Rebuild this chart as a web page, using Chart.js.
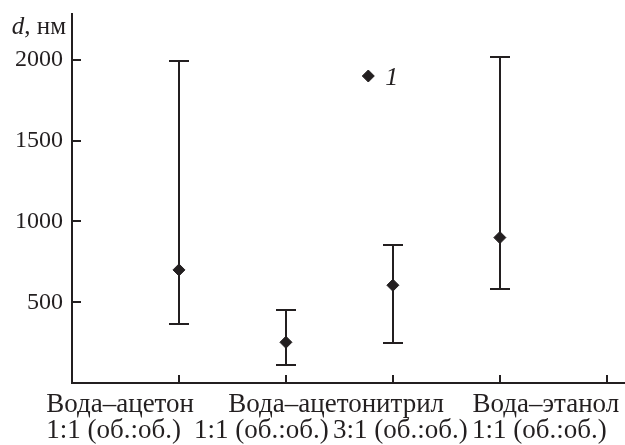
<!DOCTYPE html>
<html><head><meta charset="utf-8">
<script src="https://cdn.jsdelivr.net/npm/chart.js@4/dist/chart.umd.min.js"></script>
<style>html,body{margin:0;padding:0;background:#fff;overflow:hidden;}</style>
</head><body>
<canvas id="c" width="625" height="445"></canvas>
<script>
// ---- data ----
const categories = ['Вода–ацетон', 'Вода–ацетонитрил', 'Вода–ацетонитрил', 'Вода–этанол'];
const ratios = ['1:1 (об.:об.)', '1:1 (об.:об.)', '3:1 (об.:об.)', '1:1 (об.:об.)'];
const xPositions = [1, 2, 3, 4];
const dValues = [700, 252, 605, 900];
const dLow = [365, 110, 247, 580];
const dHigh = [1993, 450, 856, 2016];
const yTickValues = [500, 1000, 1500, 2000];
const xTickValues = [1, 2, 3, 4, 5];
const seriesName = '1';
const yAxisLabel = ['d', ', нм'];

const INK = '#231f20';
const FONT = '"Liberation Serif", "Times New Roman", serif';

const errorBars = {
  id: 'errorBars',
  beforeDatasetsDraw(chart) {
    const {ctx, scales: {x, y}} = chart;
    ctx.save();
    ctx.strokeStyle = INK; ctx.lineWidth = 2;
    ctx.beginPath();
    xPositions.forEach((xv, i) => {
      const px = Math.round(x.getPixelForValue(xv));
      const lo = Math.round(y.getPixelForValue(dLow[i]));
      const hi = Math.round(y.getPixelForValue(dHigh[i]));
      ctx.moveTo(px, lo); ctx.lineTo(px, hi);
      ctx.moveTo(px - 10, lo); ctx.lineTo(px + 10, lo);
      ctx.moveTo(px - 10, hi); ctx.lineTo(px + 10, hi);
    });
    ctx.stroke();
    ctx.restore();
  }
};

const decorations = {
  id: 'decorations',
  afterDraw(chart) {
    const {ctx, scales: {x, y}} = chart;
    ctx.save();
    ctx.fillStyle = INK;
    const x0 = Math.round(x.getPixelForValue(0));
    const y0 = Math.round(y.getPixelForValue(0));
    const yTop = Math.round(y.getPixelForValue(2290));
    const xEnd = Math.round(x.getPixelForValue(5.17));
    // axes
    ctx.fillRect(x0 - 1, yTop, 2, y0 - yTop + 1);
    ctx.fillRect(x0 - 1, y0 - 1, xEnd - x0 + 1, 2);
    yTickValues.forEach(v => {
      const py = Math.round(y.getPixelForValue(v));
      ctx.fillRect(x0, py - 1, 9, 2);
    });
    xTickValues.forEach(v => {
      const px = Math.round(x.getPixelForValue(v));
      ctx.fillRect(px - 1, y0 - 8, 2, 8);
    });

    // category labels (two rows)
    ctx.textAlign = 'center';
    ctx.textBaseline = 'alphabetic';
    ctx.font = '27px ' + FONT;
    const groups = [...new Set(categories)];
    const groupAt = [0.45, 2.47, 4.43];
    groups.forEach((g, i) => ctx.fillText(g, x.getPixelForValue(groupAt[i]), y0 + 29));
    const ratioAt = [0.39, 1.77, 3.07, 4.37];
    ratios.forEach((r, i) => ctx.fillText(r, x.getPixelForValue(ratioAt[i]), y0 + 55));

    // y axis label "d, нм"
    ctx.textAlign = 'left';
    ctx.font = '25px ' + FONT;
    const w2 = ctx.measureText(yAxisLabel[1]).width;
    ctx.font = 'italic 25px ' + FONT;
    const w1 = ctx.measureText(yAxisLabel[0]).width;
    const right = x0 - 6;
    ctx.fillText(yAxisLabel[0], right - w1 - w2, 34);
    ctx.font = '25px ' + FONT;
    ctx.fillText(yAxisLabel[1], right - w2, 34);

    // legend
    const lx = x.getPixelForValue(2.77), ly = y.getPixelForValue(1900);
    ctx.strokeStyle = INK; ctx.lineWidth = 1;
    Chart.helpers.drawPoint(ctx, {pointStyle: 'rectRot', radius: 6, borderWidth: 1, rotation: 0}, lx, ly);
    ctx.font = 'italic 26px ' + FONT;
    ctx.fillText(seriesName, lx + 17, ly + 9);
    ctx.restore();
  }
};

new Chart(document.getElementById('c'), {
  type: 'scatter',
  data: {
    datasets: [{
      label: seriesName,
      data: xPositions.map((xv, i) => ({x: xv, y: dValues[i]})),
      pointStyle: 'rectRot',
      pointRadius: 6,
      pointHoverRadius: 6,
      backgroundColor: INK,
      borderColor: INK,
      borderWidth: 1
    }]
  },
  options: {
    responsive: false,
    animation: false,
    events: [],
    layout: {autoPadding: false, padding: {top: 13, right: 0, left: 0, bottom: 0}},
    plugins: {legend: {display: false}, tooltip: {enabled: false}},
    scales: {
      x: {
        type: 'linear', min: 0, max: 5.17,
        ticks: {display: false},
        grid: {display: false, drawTicks: false},
        border: {display: false},
        afterFit(s) { s.height = 62; s.paddingLeft = 0; s.paddingRight = 0; }
      },
      y: {
        type: 'linear', min: 0, max: 2290,
        afterBuildTicks(s) { s.ticks = yTickValues.map(v => ({value: v})); },
        ticks: {color: INK, font: {family: FONT, size: 24}, padding: 9, callback: v => String(v)},
        grid: {display: false, drawTicks: false},
        border: {display: false},
        afterFit(s) { s.width = 72; s.paddingTop = 0; s.paddingBottom = 0; }
      }
    }
  },
  plugins: [errorBars, decorations]
});
</script>
</body></html>
